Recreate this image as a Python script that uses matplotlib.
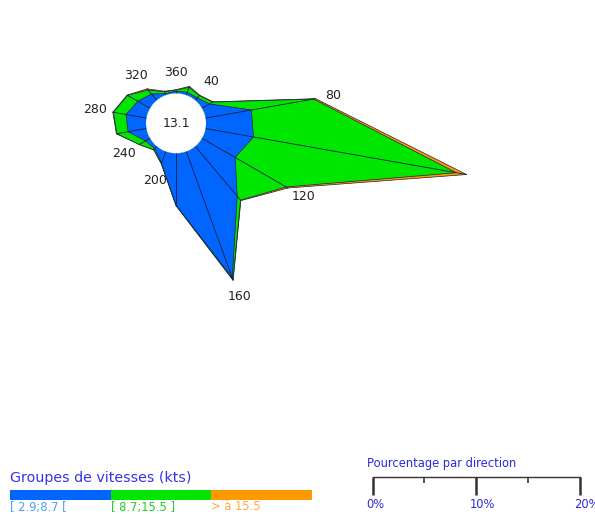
import numpy as np
import matplotlib.pyplot as plt
from matplotlib import transforms

# wind rose data (% per direction, by speed group)
directions = [0, 20, 40, 60, 80, 100, 120, 140, 160, 180,
              200, 220, 240, 260, 280, 300, 320, 340]
blue = [0.2, 0.3, 0.3, 0.85, 4.5, 4.7, 3.7, 6.3, 13.0, 5.0,
        1.2, 0.3, 0.5, 1.8, 2.0, 1.35, 0.8, 0.15]
green = [0.1, 0.5, 0.3, 0.35, 6.1, 19.9, 5.7, 0.5, 0.2, 0.05,
         0.05, 0.15, 0.7, 1.1, 1.25, 1.15, 0.5, 0.2]
orange = [0.05, 0.1, 0.05, 0.05, 0.2, 1.0, 0.2, 0.05, 0.05, 0.0,
          0.0, 0.0, 0.0, 0.05, 0.05, 0.05, 0.15, 0.05]
calm = 13.1

label_dirs = [40, 80, 120, 160, 200, 240, 280, 320, 360]
groups = ['[ 2.9;8.7 [', '[ 8.7;15.5 ]', '> à 15.5']
group_colors = ['#0066ff', '#00e600', '#ff9900']
group_text_colors = ['#4a9bff', '#22cc22', '#ffaa33']
scale_ticks = [0, 10, 20]
scale_minor = [5, 15]

W, H = 595, 514
fig = plt.figure(figsize=(W / 100, H / 100), dpi=100)


def px_axes(x0, y0, w, h, **kw):
    return fig.add_axes([x0 / W, 1 - (y0 + h) / H, w / W, h / H], **kw)


# pixels per percent, hole radius in percent
k = 10.35
hole = 2.9
rmax = 27
cx, cy = 176, 123.3
rad = (rmax + hole) * k

ax = px_axes(cx - rad, cy - rad, 2 * rad, 2 * rad, projection='polar')
ax.set_theta_zero_location('N')
ax.set_theta_direction(-1)
ax.set_rorigin(-hole)
ax.set_rlim(0, rmax)
ax.set_axis_off()

theta = np.deg2rad(directions)
c1 = np.array(blue)
c2 = c1 + np.array(green)
c3 = c2 + np.array(orange)

edge = '#1c1c3c'
for vals, col in zip([c3, c2, c1], group_colors[::-1]):
    ax.fill(theta, vals, facecolor=col, edgecolor=edge, lw=0.5)

for t, r in zip(theta, c3):
    ax.plot([t, t], [0, r], color=edge, lw=0.6)

circ = np.linspace(0, 2 * np.pi, 200)
ax.fill(circ, np.zeros_like(circ), facecolor='white', edgecolor='none', zorder=5)
ax.text(0.5, 0.5, f'{calm}', transform=ax.transAxes, ha='center', va='center',
        fontsize=9, color='#222222', zorder=6)

for d in label_dirs:
    i = directions.index(d % 360)
    ax.text(np.deg2rad(d), c3[i] + 1.7, str(d), ha='center', va='center',
            fontsize=9, color='#222222')

# speed groups legend
fig.text(10 / W, 1 - 478 / H, 'Groupes de vitesses (kts)', color='#3333ee',
         fontsize=10.3, va='center', ha='left')
lax = px_axes(10, 490, 302, 10)
for i, col in enumerate(group_colors):
    lax.barh(0.5, 1, left=i, height=1, color=col)
lax.set_xlim(0, 3)
lax.set_ylim(0, 1)
lax.set_axis_off()
for i, (g, tc) in enumerate(zip(groups, group_text_colors)):
    fig.text((10 + i * 100.7) / W, 1 - 507 / H, g, color=tc, fontsize=8.3,
             va='center', ha='left')

# percentage scale
fig.text(367 / W, 1 - 464 / H, 'Pourcentage par direction', color='#2a2ae0',
         fontsize=8.3, va='center', ha='left')
sax = px_axes(372.7, 470, 20 * k, 30)
sax.set_xlim(0, 20)
sax.set_ylim(30, 0)
sax.set_axis_off()
sax.plot([0, 20], [6.7, 6.7], color='#333333', lw=1, clip_on=False)
sax.vlines(scale_ticks, 6.7, 25, color='#333333', lw=1.8, clip_on=False)
sax.vlines(scale_minor, 6.7, 13, color='#333333', lw=1.2, clip_on=False)
shift = transforms.offset_copy(sax.transData, fig=fig, x=-6, y=0, units='dots')
for t in scale_ticks:
    sax.text(t, 35, f'{t}%', transform=shift, color='#2a2ae0', fontsize=8.3,
             ha='left', va='center', clip_on=False)

fig.savefig('out.png', dpi=100)
